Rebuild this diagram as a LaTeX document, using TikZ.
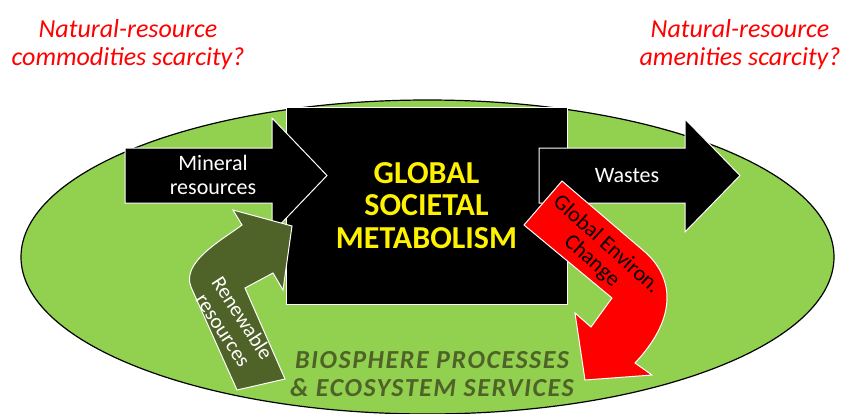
\documentclass[tikz,border=0pt]{standalone}
\usepackage{fontspec}
\setmainfont{Carlito}

\definecolor{leaf}{HTML}{92D050}
\definecolor{olive}{HTML}{4F6228}

\begin{document}
\begin{tikzpicture}[x=1pt,y=-1pt,line join=miter,
    flow/.style={fill=black,draw=white,line width=1pt},
    bent/.style={draw=white,line width=1pt},
    ask/.style={text=red,font=\fontsize{26}{28}\selectfont\itshape,align=center},
    tag/.style={font=\fontsize{22}{24}\selectfont,align=center,inner sep=0pt},
    turn/.style={align=center,inner sep=0pt}]

    \useasboundingbox (0,0) rectangle (841,413);

    \draw[fill=leaf,line width=1.2pt] (427.5,257) ellipse [x radius=406.5pt, y radius=157pt];

    \node[ask] (commod) at (128,45) {Natural-resource\\commodities scarcity?};
    \node[ask] (amenit) at (740,45) {Natural-resource\\amenities scarcity?};

    \node[draw=white,fill=black,line width=1pt,minimum width=281pt,minimum height=197pt,
          text=yellow,font=\fontsize{32}{32.5}\selectfont\bfseries,align=center] (gsm) at (426.5,205.5)
          {GLOBAL\\SOCIETAL\\METABOLISM};

    \draw[flow] (125,148) -- (272,148) -- (272,118) -- (327,175.5) -- (272,233) -- (272,203) -- (125,203) -- cycle;
    \node[tag,text=white] (mineral) at (213,175) {Mineral\\resources};

    \draw[flow] (539,148) -- (685,148) -- (685,119) -- (740,175.5) -- (685,232) -- (685,203) -- (539,203) -- cycle;
    \node[tag,text=white] (wastes) at (627,176) {Wastes};

    \draw[bent,fill=olive] (237,390) -- (191,287) .. controls (181,262) and (222,240) .. (242,225)
        -- (233,210) -- (292,226) -- (283,290) -- (273,273) -- (245,288) -- (285,379) -- cycle;
    \node[turn,text=white,rotate=-57,font=\fontsize{21}{23}\selectfont] (renew) at (233,324) {Renewable\\resources};

    \draw[bent,fill=red] (562,181) -- (645,252) .. controls (672,276) and (680,315) .. (635,363)
        -- (652,375) -- (585,380) -- (575,313) -- (591,327) -- (612,298) -- (524,225) -- cycle;
    \node[turn,rotate=-42,font=\fontsize{22}{22}\selectfont] (gec) at (599,253) {Global Environ.\\Change};

    \node[text=olive,font=\fontsize{26}{28}\selectfont\bfseries\itshape\addfontfeature{LetterSpace=6},
          align=center,inner sep=0pt] (bio) at (432,374)
        {BIOSPHERE PROCESSES\\\& ECOSYSTEM SERVICES};

\end{tikzpicture}
\end{document}
